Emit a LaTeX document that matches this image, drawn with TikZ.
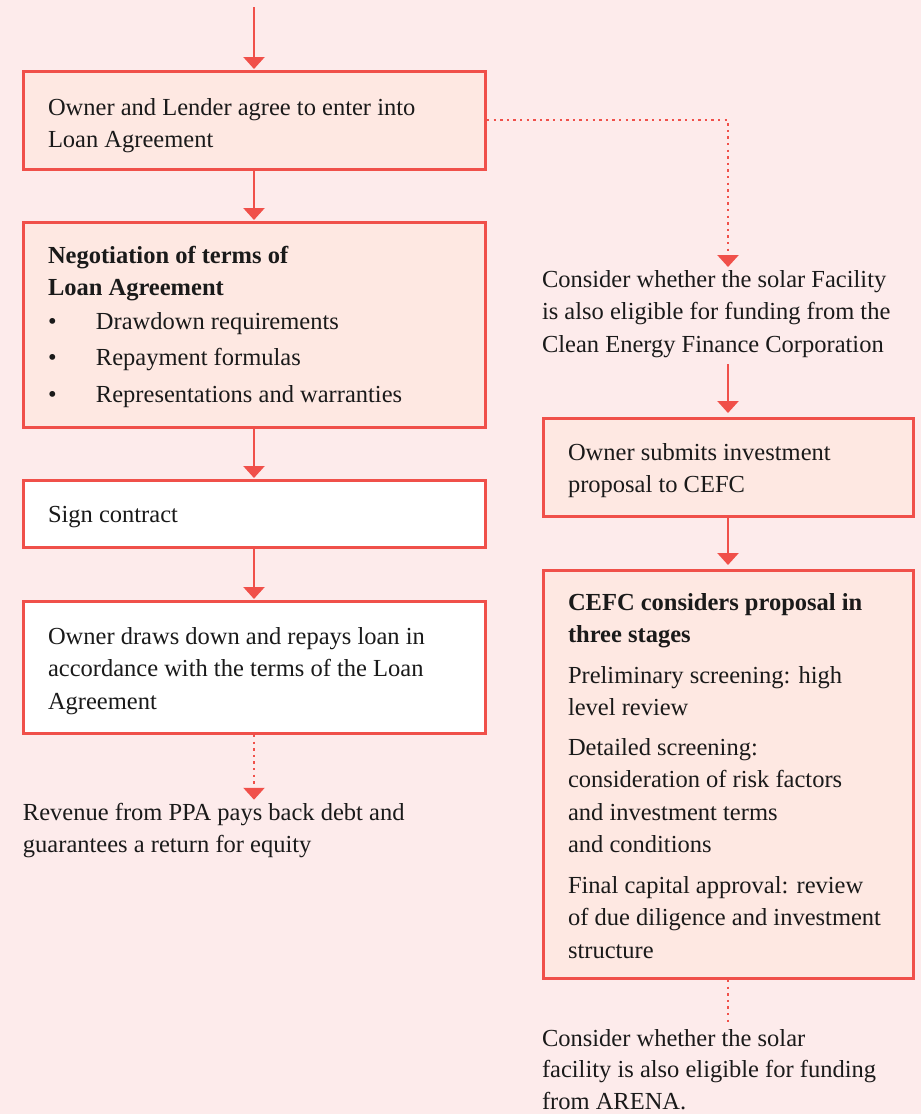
\documentclass[tikz,border=0pt]{standalone}
\usepackage{fontspec}
\setmainfont{Liberation Serif}
\usetikzlibrary{arrows.meta}
\definecolor{bg}{HTML}{FDEBEB}
\definecolor{boxfill}{HTML}{FEE8E2}
\definecolor{lnred}{HTML}{F0504A}
\definecolor{ink}{HTML}{1A1A1A}
\tikzset{
  box/.style={draw=lnred, line width=3pt, fill=boxfill, rectangle, inner sep=0pt, outer sep=0pt, anchor=north west},
  whitebox/.style={box, fill=white},
  txt/.style={anchor=base west, inner sep=0pt, outer sep=0pt, text=ink, font=\fontsize{24.5}{32.5}\selectfont},
  flow/.style={draw=lnred, line width=2.6pt, -{Triangle[width=21pt,length=12pt]}},
  dotflow/.style={draw=lnred, line width=2.6pt, dash pattern=on 2.4pt off 4.2pt, -{Triangle[width=21pt,length=12pt]}},
  dotline/.style={draw=lnred, line width=2.6pt, dash pattern=on 2.4pt off 4.2pt}
}
\newcommand{\bul}{\makebox[48pt][l]{\textbullet}}
\begin{document}
\begin{tikzpicture}[x=1pt,y=-1pt]
\useasboundingbox (0,0) rectangle (921,1114);
\fill[bg] (0,0) rectangle (921,1114);

% left column boxes
\node[box, minimum width=462pt, minimum height=98pt] (b1) at (23,71) {};
\node[box, minimum width=462pt, minimum height=205pt] (b2) at (23,222) {};
\node[whitebox, minimum width=462pt, minimum height=67pt] (b3) at (23,480) {};
\node[whitebox, minimum width=462pt, minimum height=132pt] (b4) at (23,601) {};
% right column boxes
\node[box, minimum width=370pt, minimum height=98pt] (b5) at (543,418) {};
\node[box, minimum width=370pt, minimum height=408pt] (b6) at (543,570) {};

% texts
\node[txt] (t1) at (48,115) {\parbox[t]{440pt}{\raggedright Owner and Lender agree to enter into\\Loan Agreement}};
\node[txt] (t2) at (48,263) {\parbox[t]{440pt}{\raggedright \textbf{Negotiation of terms of}\\\textbf{Loan Agreement}\\[1pt]\bul Drawdown requirements\\[4pt]\bul Repayment formulas\\[4pt]\bul Representations and warranties}};
\node[txt] (t3) at (48,522) {Sign contract};
\node[txt] (t4) at (48,644) {\parbox[t]{440pt}{\raggedright Owner draws down and repays loan in\\accordance with the terms of the Loan\\Agreement}};
\node[txt] (rev) at (23,820) {\parbox[t]{460pt}{\raggedright Revenue from PPA pays back debt and\\guarantees a return for equity}};
\node[txt] (cefcq) at (542,287) {\parbox[t]{375pt}{\raggedright Consider whether the solar Facility\\is also eligible for funding from the\\Clean Energy Finance Corporation}};
\node[txt] (t5) at (568,460) {\parbox[t]{340pt}{\raggedright Owner submits investment\\proposal to CEFC}};
\node[txt] (t6) at (568,610) {\parbox[t]{340pt}{\raggedright \textbf{CEFC considers proposal in}\\\textbf{three stages}\\[8pt]Preliminary screening: high\\level review\\[7pt]Detailed screening:\\consideration of risk factors\\and investment terms\\and conditions\\[8pt]Final capital approval: review\\of due diligence and investment\\structure}};
\node[txt, font=\fontsize{24.5}{31.5}\selectfont] (arena) at (542,1046) {\parbox[t]{375pt}{\raggedright Consider whether the solar\\facility is also eligible for funding\\from ARENA.}};

% connectors
\coordinate (start) at (254,7);
\coordinate (elbow) at (728,120);
\draw[flow, shorten >=2pt] (start) -- (b1.north);
\draw[flow, shorten >=2pt] (b1.south) -- (b2.north);
\draw[flow, shorten >=2pt] (b2.south) -- (b3.north);
\draw[flow, shorten >=2pt] (b3.south) -- (b4.north);
\draw[dotflow, shorten <=2pt, shorten >=3pt] (b4.south) -- (b4.south |- rev.north);
\draw[dotflow, shorten <=2pt, shorten >=3pt] (b1.east) -- (elbow) -- (elbow |- cefcq.north);
\draw[flow, shorten <=7pt, shorten >=5pt] (cefcq.south -| b5.north) -- (b5.north);
\draw[flow, shorten >=5pt] (b5.south) -- (b6.north);
\draw[dotline, shorten <=2pt, shorten >=7pt] (b6.south) -- (b6.south |- arena.north);
\end{tikzpicture}
\end{document}
